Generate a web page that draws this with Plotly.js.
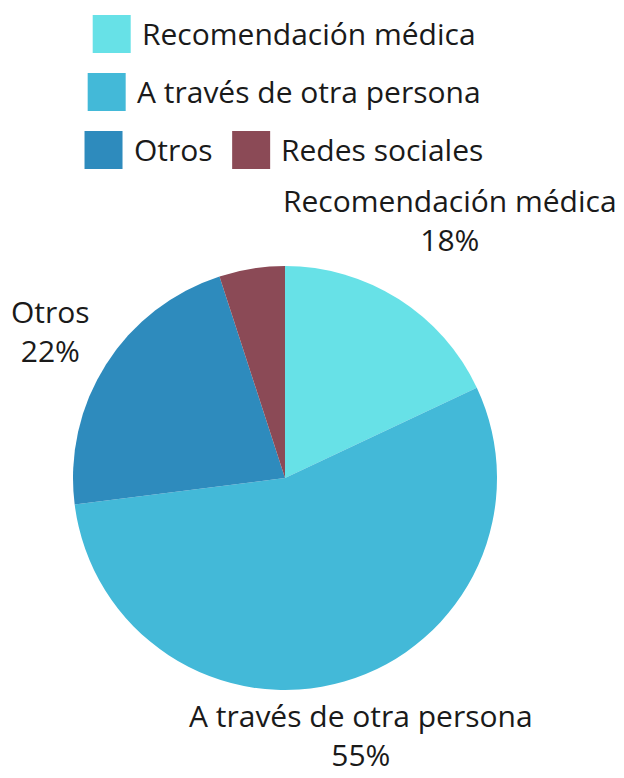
<!DOCTYPE html>
<html>
<head>
<meta charset="utf-8">
<script src="https://cdn.plot.ly/plotly-3.0.1.min.js"></script>
<style>
  html, body { margin: 0; padding: 0; background: #fff; }
  #chart { width: 624px; height: 778px; }
</style>
</head>
<body>
<div id="chart"></div>
<script>
// slices, clockwise from 12 o'clock
const labels = ['Recomendación médica', 'A través de otra persona', 'Otros', 'Redes sociales'];
const values = [18, 55, 22, 5];
const colors = ['#67e1e7', '#43b9d8', '#2e8bbd', '#8b4a56'];

// outside labels (Redes sociales has none in the original)
const labelIdx = [0, 1, 2];
const labelX = [0.889, 0.679, -0.054];
const labelY = [1.108, -0.107, 0.847];

// legend rows, as in the original (centred rows)
const legendRows = [[0], [1], [2, 3]];

const FONT = '"Open Sans", Lato, sans-serif';
const FSIZE = 30;
const W = 624, H = 778;
const M = { l: 73, r: 127, t: 266, b: 88 };
const PW = W - M.l - M.r, PH = H - M.t - M.b;

// pixel -> paper helpers for the hand laid legend
const px = x => (x - M.l) / PW;
const py = y => (H - M.b - y) / PH;

const trace = {
  type: 'pie',
  labels: labels,
  values: values,
  sort: false,
  direction: 'clockwise',
  rotation: 0,
  textinfo: 'none',
  hoverinfo: 'label+percent',
  showlegend: false,
  marker: { colors: colors, line: { width: 0 } }
};

const annotations = labelIdx.map((i, k) => ({
  xref: 'paper', yref: 'paper',
  x: labelX[k], y: labelY[k],
  xanchor: 'center', yanchor: 'middle',
  showarrow: false,
  align: 'center',
  text: labels[i] + '<br>' + values[i] + '%',
  font: { family: FONT, size: FSIZE, color: '#1a1a1a' }
}));

// legend: square + label, each row centred on the pie
const ctx = document.createElement('canvas').getContext('2d');
ctx.font = FSIZE + 'px "Open Sans"';
const SQ = 38, GAP = 9, ITEM_GAP = 22, CX = 283;
const shapes = [];
legendRows.forEach((row, r) => {
  const widths = row.map(i => SQ + GAP + ctx.measureText(labels[i]).width);
  const total = widths.reduce((a, b) => a + b, 0) + ITEM_GAP * (row.length - 1);
  let x = CX - total / 2;
  const top = 15 + r * 58;
  row.forEach((i, k) => {
    shapes.push({
      type: 'rect', xref: 'paper', yref: 'paper',
      x0: px(x), x1: px(x + SQ), y0: py(top + SQ), y1: py(top),
      fillcolor: colors[i], line: { width: 0 }
    });
    annotations.push({
      xref: 'paper', yref: 'paper',
      x: px(x + SQ + GAP), y: py(top + SQ / 2),
      xanchor: 'left', yanchor: 'middle',
      showarrow: false,
      text: labels[i],
      font: { family: FONT, size: FSIZE, color: '#1a1a1a' }
    });
    x += widths[k] + ITEM_GAP;
  });
});

const layout = {
  width: W,
  height: H,
  margin: M,
  paper_bgcolor: '#fff',
  font: { family: FONT, color: '#1a1a1a' },
  showlegend: false,
  shapes: shapes,
  annotations: annotations
};

Plotly.newPlot('chart', [trace], layout, { displayModeBar: false });
</script>
</body>
</html>
